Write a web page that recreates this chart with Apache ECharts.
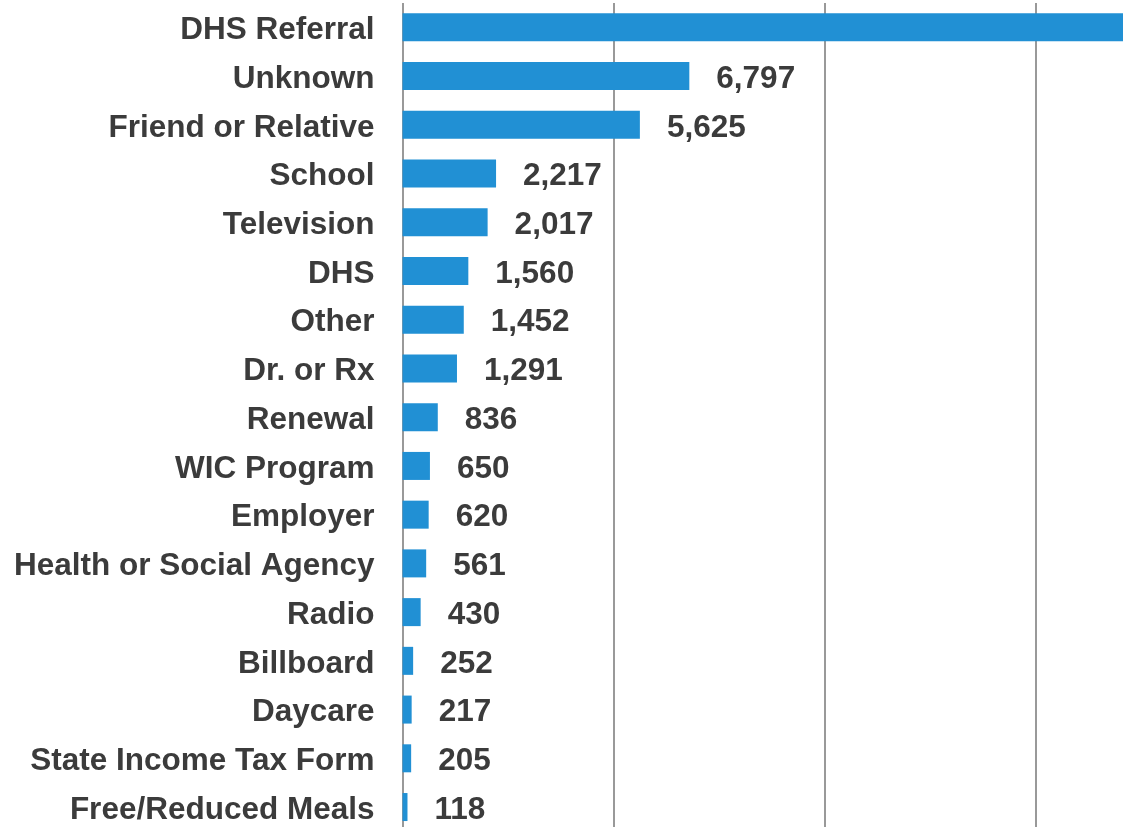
<!DOCTYPE html>
<html>
<head>
<meta charset="utf-8">
<script src="https://cdn.jsdelivr.net/npm/echarts@6/dist/echarts.min.js"></script>
<style>
html,body{margin:0;padding:0;background:#fff;overflow:hidden;width:1123px;height:827px;}
#chart{width:1260px;height:845px;}
</style>
</head>
<body>
<div id="chart"></div>
<script>
const categories = ["DHS Referral","Unknown","Friend or Relative","School","Television","DHS","Other","Dr. or Rx","Renewal","WIC Program","Employer","Health or Social Agency","Radio","Billboard","Daycare","State Income Tax Form","Free/Reduced Meals"];
const values = [17500,6797,5625,2217,2017,1560,1452,1291,836,650,620,561,430,252,217,205,118];
const xTicks = [0,5000,10000,15000,20000];

const chart = echarts.init(document.getElementById('chart'), null, {renderer:'canvas'});
const font = "'Liberation Sans', Arial, Helvetica, sans-serif";
const txt = {fontFamily:font, fontWeight:'bold', fontSize:31.5, color:'#3b3b3b', padding:[6,0,0,0]};
chart.setOption({
  animation:false,
  backgroundColor:'#ffffff',
  grid:{left:402.5, right:13.5, top:3, bottom:13.6, containLabel:false},
  xAxis:{
    type:'value', min:xTicks[0], max:xTicks[xTicks.length-1], interval:5000,
    axisLabel:{show:false}, axisTick:{show:false}, axisLine:{show:false},
    splitLine:{show:true, lineStyle:{color:'#777777', width:1.5}}
  },
  yAxis:{
    type:'category', data:categories, inverse:true,
    axisLine:{show:false}, axisTick:{show:false},
    axisLabel:{margin:28, fontFamily:font, fontWeight:'bold', fontSize:31.5, color:'#3b3b3b',
      formatter:v=>'{a|'+v+'}', rich:{a:txt}}
  },
  series:[{
    type:'bar', data:values, barWidth:28,
    itemStyle:{color:'#2190d4'},
    label:{show:true, position:'right', distance:27, fontFamily:font, fontWeight:'bold', fontSize:31.5, color:'#3b3b3b',
      formatter:p=>'{a|'+p.value.toLocaleString('en-US')+'}', rich:{a:txt}}
  }]
});
</script>
</body>
</html>
